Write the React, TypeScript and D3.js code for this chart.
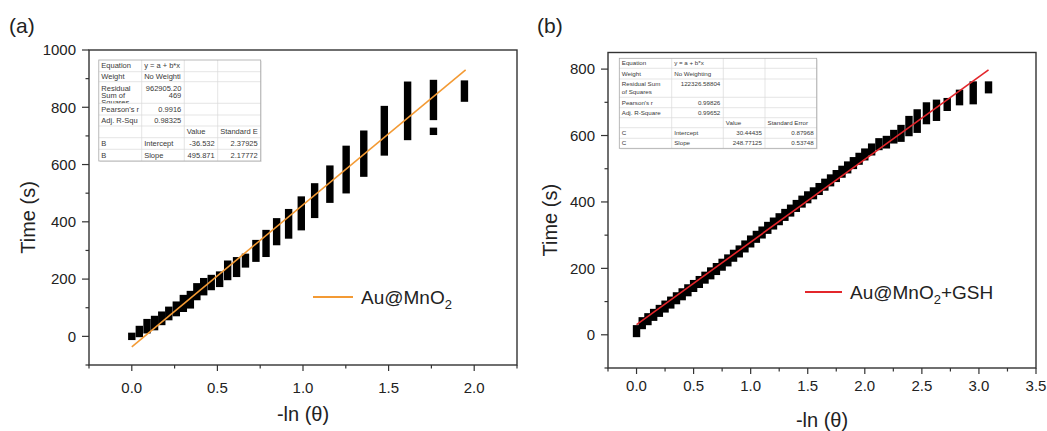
import React from 'react';
import * as d3 from 'd3';

const FONT = '"Liberation Sans", Arial, Helvetica, sans-serif';

// (a) Au@MnO2 : one column of points for each -ln(θ) level, time span of the points
const aLnTheta = [0, 0.044, 0.089, 0.133, 0.175, 0.216, 0.26, 0.301, 0.342, 0.38, 0.42, 0.464, 0.513, 0.56, 0.612, 0.664, 0.725, 0.784, 0.846, 0.916, 0.99, 1.068, 1.157, 1.252, 1.355, 1.475, 1.611, 1.762, 1.943];
const aTimeFrom = [0, 10, 23, 34, 52, 69, 83, 98, 110, 139, 156, 174, 185, 209, 220, 253, 273, 290, 331, 354, 383, 426, 479, 512, 570, 644, 698, 768, 832];
const aTimeTo = [0, 24, 48, 59, 74, 91, 109, 132, 146, 173, 191, 202, 214, 252, 264, 276, 324, 359, 400, 432, 476, 522, 584, 653, 706, 792, 877, 883, 881];
const aLoneLnTheta = [1.762];
const aLoneTime = [716];
const aIntercept = -36.532;
const aSlope = 495.871;
const aFitEnd = 1.95;

// (b) Au@MnO2+GSH
const bLnTheta = [0, 0.05, 0.1, 0.15, 0.2, 0.25, 0.3, 0.35, 0.4, 0.45, 0.5, 0.55, 0.6, 0.65, 0.7, 0.75, 0.8, 0.85, 0.9, 0.95, 1.0, 1.05, 1.1, 1.15, 1.2, 1.25, 1.3, 1.35, 1.4, 1.45, 1.5, 1.55, 1.6, 1.65, 1.7, 1.75, 1.8, 1.85, 1.9, 1.95, 2.0, 2.06, 2.124, 2.189, 2.254, 2.317, 2.387, 2.459, 2.54, 2.628, 2.722, 2.83, 2.95, 3.084];
const bTimeFrom = [4, 28, 40, 53, 65, 78, 90, 103, 115, 127, 140, 152, 165, 178, 191, 204, 217, 231, 244, 259, 274, 288, 301, 315, 328, 341, 354, 367, 381, 394, 407, 419, 432, 445, 458, 471, 484, 497, 510, 523, 536, 551, 567, 572, 587, 592, 609, 619, 645, 655, 685, 702, 705, 738];
const bTimeTo = [18, 42, 54, 67, 79, 92, 104, 117, 129, 141, 154, 166, 179, 192, 205, 218, 231, 245, 258, 273, 288, 302, 315, 329, 342, 355, 368, 381, 395, 408, 421, 433, 446, 459, 472, 485, 498, 511, 524, 537, 550, 565, 581, 588, 606, 621, 648, 668, 689, 697, 702, 727, 752, 752];
const bIntercept = 30.44435;
const bSlope = 248.77125;
const bFitEnd = 3.084;

// ticks
const aXTicks = [0, 0.5, 1, 1.5, 2];
const aYTicks = [0, 200, 400, 600, 800, 1000];
const bXTicks = [0, 0.5, 1, 1.5, 2, 2.5, 3, 3.5];
const bYTicks = [0, 200, 400, 600, 800];

// fit report tables
const aTableRows = [
  ['Equation', 'y = a + b*x', '', ''],
  ['Weight', 'No Weighti', '', ''],
  ['Residual\nSum of\nSquares', '962905.20\n469', '', ''],
  ["Pearson's r", '0.9916', '', ''],
  ['Adj. R-Squ', '0.98325', '', ''],
  ['', '', 'Value', 'Standard E'],
  ['B', 'Intercept', '-36.532', '2.37925'],
  ['B', 'Slope', '495.871', '2.17772'],
];
const bTableRows = [
  ['Equation', 'y = a + b*x', '', ''],
  ['Weight', 'No Weighting', '', ''],
  ['Residual Sum\nof Squares', '122326.58804', '', ''],
  ["Pearson's r", '0.99826', '', ''],
  ['Adj. R-Square', '0.99652', '', ''],
  ['', '', 'Value', 'Standard Error'],
  ['C', 'Intercept', '30.44435', '0.87968'],
  ['C', 'Slope', '248.77125', '0.53748'],
];

const FitTable = ({ id, x, y, colW, rowH, rows, fontSize, firstLine, lineGap }: any) => {
  const colX = [x];
  colW.forEach((w: number, i: number) => colX.push(colX[i] + w));
  const rowY = [y];
  rowH.forEach((h: number, i: number) => rowY.push(rowY[i] + h));
  const W = colX[colX.length - 1] - x;
  const H = rowY[rowY.length - 1] - y;
  return (
    <g fontFamily={FONT} fontSize={fontSize} fill="#3a3a3a">
      <rect x={x + 1} y={y + 1} width={W} height={H} fill="#e6e6e6" />
      <rect x={x} y={y} width={W} height={H} fill="#fff" />
      {rowY.slice(1, -1).map((ry, i) => (
        <line key={'h' + i} x1={x} x2={x + W} y1={ry} y2={ry} stroke="#dadada" strokeWidth={0.7} />
      ))}
      {colX.slice(1, -1).map((cx, i) => (
        <line key={'v' + i} x1={cx} x2={cx} y1={y} y2={y + H} stroke="#dadada" strokeWidth={0.7} />
      ))}
      <rect x={x} y={y} width={W} height={H} fill="none" stroke="#a8a8a8" strokeWidth={0.8} />
      <defs>
        {rows.map((row: string[], r: number) =>
          row.map((_, c) => (
            <clipPath key={`${r}-${c}`} id={`${id}-${r}-${c}`}>
              <rect x={colX[c]} y={rowY[r]} width={colW[c]} height={rowH[r]} />
            </clipPath>
          ))
        )}
      </defs>
      {rows.map((row: string[], r: number) =>
        row.map((cell, c) => {
          if (!cell) return null;
          const lines = cell.split('\n');
          const numeric = /^-?\d/.test(lines[0]);
          const tx = numeric ? colX[c + 1] - 3 : colX[c] + 2.5;
          return (
            <g key={`${r}-${c}`} clipPath={`url(#${id}-${r}-${c})`}>
              {lines.map((ln, k) => (
                <text
                  key={k}
                  x={tx}
                  y={lines.length > 1 || row.some((s) => s.includes('\n')) ? rowY[r] + firstLine + k * lineGap : rowY[r] + rowH[r] / 2}
                  dy="0.35em"
                  textAnchor={numeric ? 'end' : 'start'}
                >
                  {ln}
                </text>
              ))}
            </g>
          );
        })
      )}
    </g>
  );
};

const Panel = (p: any) => {
  const x = d3.scaleLinear().domain(p.xDomain).range([p.left, p.right]);
  const y = d3.scaleLinear().domain(p.yDomain).range([p.bottom, p.top]);
  const near = (arr: number[], v: number) => arr.some((t) => Math.abs(t - v) < 1e-6);
  const xMinor = d3.range(p.xDomain[0], p.xDomain[1] + 1e-6, p.xStep / 2).filter((v) => !near(p.xTicks, v));
  const yMinor = d3.range(p.yDomain[0], p.yDomain[1] + 1e-6, p.yStep / 2).filter((v) => !near(p.yTicks, v));
  const m = 7.4;
  const fit = d3.line<number>().x((d) => x(d)).y((d) => y(p.intercept + p.slope * d));
  const axis = '#333';
  return (
    <g fontFamily={FONT}>
      {/* data columns */}
      {p.lnTheta.map((lt: number, i: number) => (
        <rect
          key={i}
          x={x(lt) - m / 2}
          y={y(p.timeTo[i]) - m / 2}
          width={m}
          height={y(p.timeFrom[i]) - y(p.timeTo[i]) + m}
          fill="#000"
        />
      ))}
      {(p.loneX || []).map((lt: number, i: number) => (
        <rect key={'l' + i} x={x(lt) - m / 2} y={y(p.loneT[i]) - m / 2} width={m} height={m} fill="#000" />
      ))}
      <path d={fit([0, p.fitEnd]) || ''} stroke={p.fitColor} strokeWidth={1.6} fill="none" />

      {/* frame */}
      <rect x={p.left} y={p.top} width={p.right - p.left} height={p.bottom - p.top} fill="none" stroke={axis} strokeWidth={1.4} />
      {p.xTicks.map((t: number) => (
        <g key={'xt' + t}>
          <line x1={x(t)} x2={x(t)} y1={p.bottom} y2={p.bottom + 6} stroke={axis} strokeWidth={1.2} />
          <text x={x(t)} y={p.xLabelY} fontSize={15} textAnchor="middle" fill="#222">
            {d3.format('.1f')(t)}
          </text>
        </g>
      ))}
      {xMinor.map((t: number) => (
        <line key={'xm' + t} x1={x(t)} x2={x(t)} y1={p.bottom} y2={p.bottom + 3.5} stroke={axis} strokeWidth={1.2} />
      ))}
      {p.yTicks.map((t: number) => (
        <g key={'yt' + t}>
          <line x1={p.left - 7} x2={p.left} y1={y(t)} y2={y(t)} stroke={axis} strokeWidth={1.2} />
          <text x={p.left - 13} y={y(t)} dy="0.35em" fontSize={15} textAnchor="end" fill="#222">
            {t}
          </text>
        </g>
      ))}
      {yMinor.map((t: number) => (
        <line key={'ym' + t} x1={p.left - 3.5} x2={p.left} y1={y(t)} y2={y(t)} stroke={axis} strokeWidth={1.2} />
      ))}

      {/* titles */}
      <text x={(p.left + p.right) / 2} y={p.xTitleY} fontSize={20} textAnchor="middle" fill="#222">
        -ln (θ)
      </text>
      <text
        transform={`translate(${p.yTitleX},${(p.top + p.bottom) / 2 + 10}) rotate(-90)`}
        fontSize={20}
        textAnchor="middle"
        fill="#222"
      >
        Time (s)
      </text>
      <text x={p.tagX} y={33} fontSize={21} fill="#222">
        {p.tag}
      </text>

      {/* legend */}
      <line x1={p.legX} x2={p.legX + p.legLen} y1={p.legY} y2={p.legY} stroke={p.fitColor} strokeWidth={1.8} />
      <text x={p.legX + p.legLen + 8} y={p.legY + 6.5} fontSize={19} fill="#222">
        Au@MnO
        <tspan fontSize={13} dy={5}>2</tspan>
        {p.legSuffix ? <tspan dy={-5} fontSize={19}>{p.legSuffix}</tspan> : null}
      </text>
    </g>
  );
};

const App = () => {
  return (
    <svg
      width={1047}
      height={431}
      style={{ position: 'absolute', left: 0, top: 0, display: 'block', background: '#fff' }}
    >
      <rect width={1047} height={431} fill="#fff" />
      <Panel
        tag="(a)"
        tagX={9}
        left={89}
        right={517}
        top={50}
        bottom={365}
        xDomain={[-0.25, 2.25]}
        yDomain={[-100, 1000]}
        xTicks={aXTicks}
        yTicks={aYTicks}
        xStep={0.5}
        yStep={200}
        lnTheta={aLnTheta}
        timeFrom={aTimeFrom}
        timeTo={aTimeTo}
        loneX={aLoneLnTheta}
        loneT={aLoneTime}
        intercept={aIntercept}
        slope={aSlope}
        fitEnd={aFitEnd}
        fitColor="#F39A34"
        xLabelY={393}
        xTitleY={421}
        yTitleX={35}
        legX={313}
        legLen={40}
        legY={297}
      />
      <Panel
        tag="(b)"
        tagX={537}
        left={608}
        right={1036}
        top={52.5}
        bottom={368}
        xDomain={[-0.25, 3.5]}
        yDomain={[-100, 850]}
        xTicks={bXTicks}
        yTicks={bYTicks}
        xStep={0.5}
        yStep={200}
        lnTheta={bLnTheta}
        timeFrom={bTimeFrom}
        timeTo={bTimeTo}
        intercept={bIntercept}
        slope={bSlope}
        fitEnd={bFitEnd}
        fitColor="#E3262B"
        xLabelY={391}
        xTitleY={427}
        yTitleX={557}
        legX={805}
        legLen={37}
        legY={292}
        legSuffix="+GSH"
      />
      <FitTable
        id="ta"
        x={98.8}
        y={60}
        colW={[42.9, 42.6, 33.4, 43]}
        rowH={[11.7, 10, 21.6, 11.7, 11, 11.7, 11.6, 11.7]}
        rows={aTableRows}
        fontSize={7.5}
        firstLine={6.3}
        lineGap={7}
      />
      <FitTable
        id="tb"
        x={619.3}
        y={58.3}
        colW={[52.4, 51.6, 41.7, 51.7]}
        rowH={[10, 10.7, 18.3, 10.4, 10, 10, 10.6, 10]}
        rows={bTableRows}
        fontSize={6.2}
        firstLine={4.6}
        lineGap={8}
      />
    </svg>
  );
};

export default App;
